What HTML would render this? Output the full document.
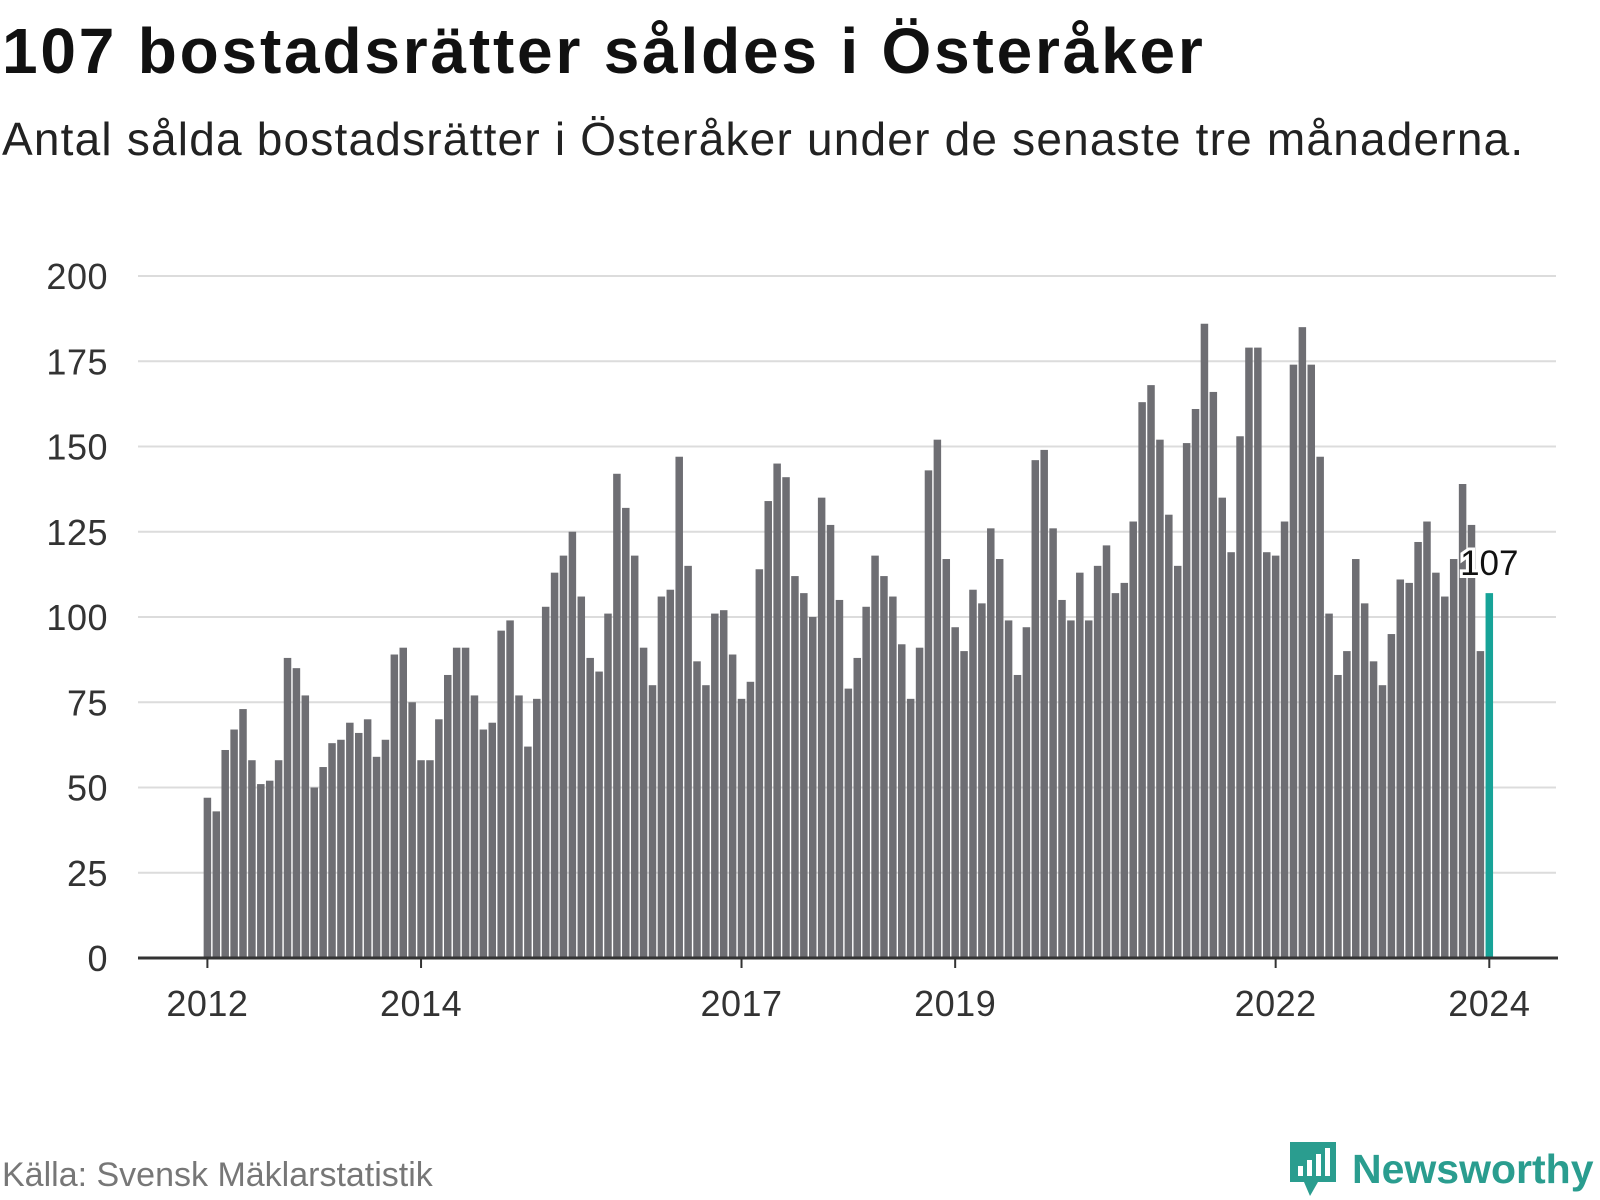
<!DOCTYPE html>
<html><head><meta charset="utf-8"><style>
body{margin:0;width:1600px;height:1200px;background:#fff;font-family:"Liberation Sans","DejaVu Sans",sans-serif;overflow:hidden;position:relative}
#title{position:absolute;left:2px;top:14px;font-size:64px;font-weight:bold;color:#111;margin:0;letter-spacing:2.8px;white-space:nowrap}
#sub{position:absolute;left:2px;top:112px;font-size:46px;color:#222;letter-spacing:1.2px;white-space:nowrap}
#src{position:absolute;left:2px;top:1156px;font-size:34px;color:#777}
#logo{position:absolute;left:1288px;top:1140px;display:flex;align-items:center}
</style></head><body>
<h1 id="title">107 bostadsrätter såldes i Österåker</h1>
<div id="sub">Antal sålda bostadsrätter i Österåker under de senaste tre månaderna.</div>
<svg id="chart" width="1600" height="1100" style="position:absolute;left:0;top:0"></svg>
<div id="src">Källa: Svensk Mäklarstatistik</div>
<div id="logo">
<svg width="50" height="58"><path d="M2 2h46v40H30l-8 14-6-14H2z" fill="#2a9d8f"/><rect x="10" y="26" width="5" height="10" fill="#fff"/><rect x="19" y="20" width="5" height="16" fill="#fff"/><rect x="28" y="14" width="5" height="22" fill="#fff"/><rect x="37" y="8" width="5" height="28" fill="#fff"/></svg>
<span style="font-size:41px;font-weight:bold;color:#2a9d8f;margin-left:14px">Newsworthy</span>
</div>
<script>
const values=[47,43,61,67,73,58,51,52,58,88,85,77,
50,56,63,64,69,66,70,59,64,89,91,75,
58,58,70,83,91,91,77,67,69,96,99,77,
62,76,103,113,118,125,106,88,84,101,142,132,
118,91,80,106,108,147,115,87,80,101,102,89,
76,81,114,134,145,141,112,107,100,135,127,105,
79,88,103,118,112,106,92,76,91,143,152,117,
97,90,108,104,126,117,99,83,97,146,149,126,
105,99,113,99,115,121,107,110,128,163,168,152,
130,115,151,161,186,166,135,119,153,179,179,119,
118,128,174,185,174,147,101,83,90,117,104,87,
80,95,111,110,122,128,113,106,117,139,127,90,
107];
const yTicks=[0,25,50,75,100,125,150,175,200];
const xTickYears=[2012,2014,2017,2019,2022,2024];
const startYear=2012;
const NS="http://www.w3.org/2000/svg";
const svg=document.getElementById('chart');
const x0=207.4,pxPerMonth=(1489.3-207.4)/144;
const X=i=>x0+i*pxPerMonth;
const Y=v=>958-v*(958-276)/200;
function mk(t,a){const e=document.createElementNS(NS,t);for(const k in a)e.setAttribute(k,a[k]);svg.appendChild(e);return e;}
yTicks.forEach(t=>{
 if(t>0){const g=mk('line',{x1:138,x2:1556,y1:Y(t),y2:Y(t),stroke:'#dcdcdc','stroke-width':2});
 
 }
 const l=mk('text',{x:108,y:Y(t)+13,'text-anchor':'end','font-size':36,fill:'#333','letter-spacing':0.5});
 l.textContent=t;
 
 
});
values.forEach((v,i)=>{
 const last=i===values.length-1;
 const r=mk('rect',{x:X(i)-3.75,y:Y(v),width:7.5,height:Y(0)-Y(v),fill:last?'#17a398':'#6e6e73'});
 
 
});
const ax=mk('line',{x1:138,x2:1558,y1:958,y2:958,stroke:'#333','stroke-width':3});


xTickYears.forEach(yr=>{
 const x=X((yr-startYear)*12);
 const tk=mk('line',{x1:x,x2:x,y1:958,y2:968,stroke:'#333','stroke-width':2});
 
 
 const l=mk('text',{x:x,y:1016,'text-anchor':'middle','font-size':36,fill:'#333','letter-spacing':0.5});
 l.textContent=yr;
 
 
});
const lv=values[values.length-1];
const lab=mk('text',{x:X(values.length-1),y:Y(lv)-18,'text-anchor':'middle','font-size':35,fill:'#111',stroke:'#fff','stroke-width':6,'paint-order':'stroke'});
lab.textContent=lv;


</script>
</body></html>
